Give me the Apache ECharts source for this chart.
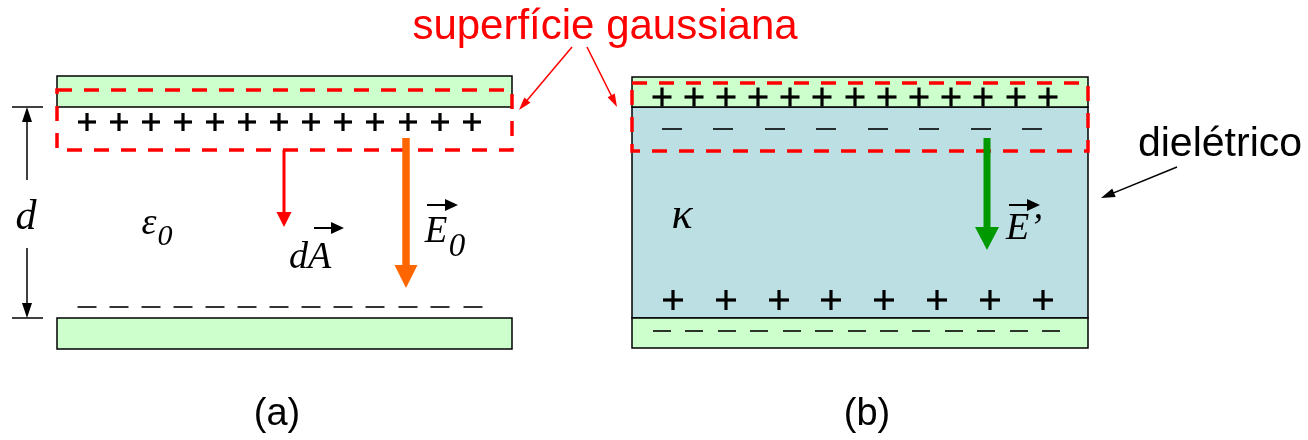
<!DOCTYPE html>
<html><head><meta charset="utf-8">
<script src="https://cdn.jsdelivr.net/npm/echarts@6/dist/echarts.min.js"></script>
<style>html,body{margin:0;padding:0;background:#fff}#c{width:1308px;height:440px}</style>
</head><body><div id="c"></div>
<script>
// ---- diagram data (coordinates in the diagram's own units: x 0..1308, y 0..440 downward) ----
const platesA = [[57, 76, 512, 107], [57, 318, 512, 349]];
const platesB = [[632, 77, 1088, 107], [632, 318, 1088, 348]];
const dielectricB = [[632, 107, 1088, 318]];
const gaussBoxes = [[57, 90, 512, 150], [632, 83, 1088, 151]];

const plusTopAX = [87, 119, 151, 183, 215, 247, 279, 311, 343, 375, 408, 440, 472];
const plusTopAY = 122;
const minusBotAX = [87, 119, 151, 183, 215, 247, 279, 311, 343, 375, 408, 440, 473];
const minusBotAY = 307;
const plusTopBX = [662, 694, 726, 758, 790, 822, 855, 887, 919, 951, 983, 1016, 1048];
const plusTopBY = 97;
const minusDielBX = [672, 723, 775, 826, 878, 929, 981, 1032];
const minusDielBY = 129;
const plusDielBX = [673, 726, 779, 831, 884, 937, 990, 1043];
const plusDielBY = 300;
const minusBotBX = [662, 694, 727, 759, 792, 824, 857, 889, 921, 954, 986, 1019, 1051];
const minusBotBY = 331;

// arrows [x1, y1, x2, y2] (tail -> tip)
const arrowDA = [[284, 150, 284, 227]];
const arrowE0 = [[406, 138, 406, 288]];
const arrowEp = [[987, 138, 987, 250]];
const vectorMarks = [[314, 228, 344, 228], [427, 205, 458, 205], [1009, 205, 1040, 205]];
const dimTicks = [[12, 107, 43, 107], [12, 318, 43, 318]];
const dimArrows = [[27, 180, 27, 107], [27, 248, 27, 318]];
const calloutRed = [[572, 47, 519, 110], [587, 47, 617, 107]];
const calloutBlack = [[1177, 167, 1101, 198]];

// text labels
const labelTexts = ['superfície gaussiana', 'dielétrico', '(a)', '(b)', 'd', 'ε', '0', 'dA', 'E', '0', 'κ', 'E’'];
const labelPos = [[605, 27], [1220, 145], [277, 415], [867, 415], [26, 218], [149, 224], [165, 237], [310, 258], [436, 232], [457, 247], [682, 216], [1024, 229]];

// ---- styles (kept out of the data) ----
const SANS = '"Liberation Sans", Arial, sans-serif';
const SERIF = '"Liberation Serif", "Times New Roman", serif';
const labelStyles = [
  {font: SANS, size: 42, color: '#ff0000', italic: false},
  {font: SANS, size: 41, color: '#000', italic: false},
  {font: SANS, size: 38, color: '#000', italic: false},
  {font: SANS, size: 38, color: '#000', italic: false},
  {font: SERIF, size: 42, color: '#000', italic: true},
  {font: SERIF, size: 38, color: '#000', italic: true},
  {font: SERIF, size: 30, color: '#000', italic: true},
  {font: SERIF, size: 38, color: '#000', italic: true},
  {font: SERIF, size: 37, color: '#000', italic: true},
  {font: SERIF, size: 33, color: '#000', italic: true},
  {font: SERIF, size: 44, color: '#000', italic: true},
  {font: SERIF, size: 38, color: '#000', italic: true}
];

function rectRender(fill, stroke, lw, dash) {
  return function (params, api) {
    const p0 = api.coord([api.value(0), api.value(1)]);
    const p1 = api.coord([api.value(2), api.value(3)]);
    return {type: 'rect', shape: {x: p0[0], y: p0[1], width: p1[0] - p0[0], height: p1[1] - p0[1]},
      style: {fill: fill, stroke: stroke, lineWidth: lw, lineDash: dash || null}};
  };
}
function signRender(half, lw, plus) {
  return function (params, api) {
    const p = api.coord([api.value(0), api.value(1)]);
    const kids = [{type: 'line', shape: {x1: p[0] - half, y1: p[1], x2: p[0] + half, y2: p[1]}, style: {stroke: '#000', lineWidth: lw}}];
    if (plus) kids.push({type: 'line', shape: {x1: p[0], y1: p[1] - half, x2: p[0], y2: p[1] + half}, style: {stroke: '#000', lineWidth: lw}});
    return {type: 'group', children: kids};
  };
}
function arrowRender(color, lw, hw, hl) {
  return function (params, api) {
    const a = api.coord([api.value(0), api.value(1)]);
    const b = api.coord([api.value(2), api.value(3)]);
    const dx = b[0] - a[0], dy = b[1] - a[1], len = Math.hypot(dx, dy);
    const ux = dx / len, uy = dy / len;
    const bx = b[0] - ux * hl, by = b[1] - uy * hl;
    return {type: 'group', children: [
      {type: 'line', shape: {x1: a[0], y1: a[1], x2: bx + ux, y2: by + uy}, style: {stroke: color, lineWidth: lw}},
      {type: 'polygon', shape: {points: [[b[0], b[1]], [bx - uy * hw, by + ux * hw], [bx + uy * hw, by - ux * hw]]}, style: {fill: color}}
    ]};
  };
}
function lineRender(color, lw) {
  return function (params, api) {
    const a = api.coord([api.value(0), api.value(1)]);
    const b = api.coord([api.value(2), api.value(3)]);
    return {type: 'line', shape: {x1: a[0], y1: a[1], x2: b[0], y2: b[1]}, style: {stroke: color, lineWidth: lw}};
  };
}
function textRender(params, api) {
  const p = api.coord([api.value(0), api.value(1)]);
  const s = labelStyles[params.dataIndex];
  return {type: 'text', x: p[0], y: p[1], style: {
    text: labelTexts[params.dataIndex], fontFamily: s.font, fontSize: s.size,
    fontStyle: s.italic ? 'italic' : 'normal', fill: s.color, align: 'center', verticalAlign: 'middle'}};
}
function cs(name, data, render, z) {
  return {type: 'custom', name: name, data: data, renderItem: render, clip: false, silent: true, z: z || 2,
    encode: {x: [0, 2], y: [1, 3]}};
}
function pts(xs, y) { return xs.map(function (x) { return [x, y, x, y]; }); }

const chart = echarts.init(document.getElementById('c'), null, {renderer: 'canvas'});
chart.setOption({
  animation: false,
  backgroundColor: '#ffffff',
  grid: {left: 0, right: 0, top: 0, bottom: 0},
  xAxis: {type: 'value', min: 0, max: 1308, show: false},
  yAxis: {type: 'value', min: 0, max: 440, inverse: true, show: false},
  series: [
    cs('dielectric', dielectricB, rectRender('#bbdfe3', '#000', 1.5), 1),
    cs('platesA', platesA, rectRender('#ccffcc', '#000', 1.5), 2),
    cs('platesB', platesB, rectRender('#ccffcc', '#000', 1.5), 2),
    cs('plusTopA', pts(plusTopAX, plusTopAY), signRender(9, 3.2, true), 3),
    cs('minusBotA', pts(minusBotAX, minusBotAY), signRender(9.5, 1.6, false), 3),
    cs('plusTopB', pts(plusTopBX, plusTopBY), signRender(9.5, 3.2, true), 3),
    cs('minusDielB', pts(minusDielBX, minusDielBY), signRender(10, 1.6, false), 3),
    cs('plusDielB', pts(plusDielBX, plusDielBY), signRender(10, 3.2, true), 3),
    cs('minusBotB', pts(minusBotBX, minusBotBY), signRender(9, 1.6, false), 3),
    cs('gauss', gaussBoxes, rectRender(null, '#ff0000', 3.5, [15, 12]), 4),
    cs('arrowDA', arrowDA, arrowRender('#ff0000', 3, 7.5, 15), 5),
    cs('arrowE0', arrowE0, arrowRender('#ff6600', 7.5, 11.5, 23), 5),
    cs('arrowEp', arrowEp, arrowRender('#009900', 7, 12, 23), 5),
    cs('vectors', vectorMarks, arrowRender('#000', 2, 6, 13), 5),
    cs('dimTicks', dimTicks, lineRender('#000', 1.5), 5),
    cs('dimArrows', dimArrows, arrowRender('#000', 1.5, 5, 15), 5),
    cs('calloutRed', calloutRed, arrowRender('#ff0000', 1.5, 4, 13), 5),
    cs('calloutBlack', calloutBlack, arrowRender('#000', 1.5, 4.5, 14), 5),
    cs('labels', labelPos.map(function (p) { return [p[0], p[1], p[0], p[1]]; }), textRender, 6)
  ]
});
</script></body></html>
